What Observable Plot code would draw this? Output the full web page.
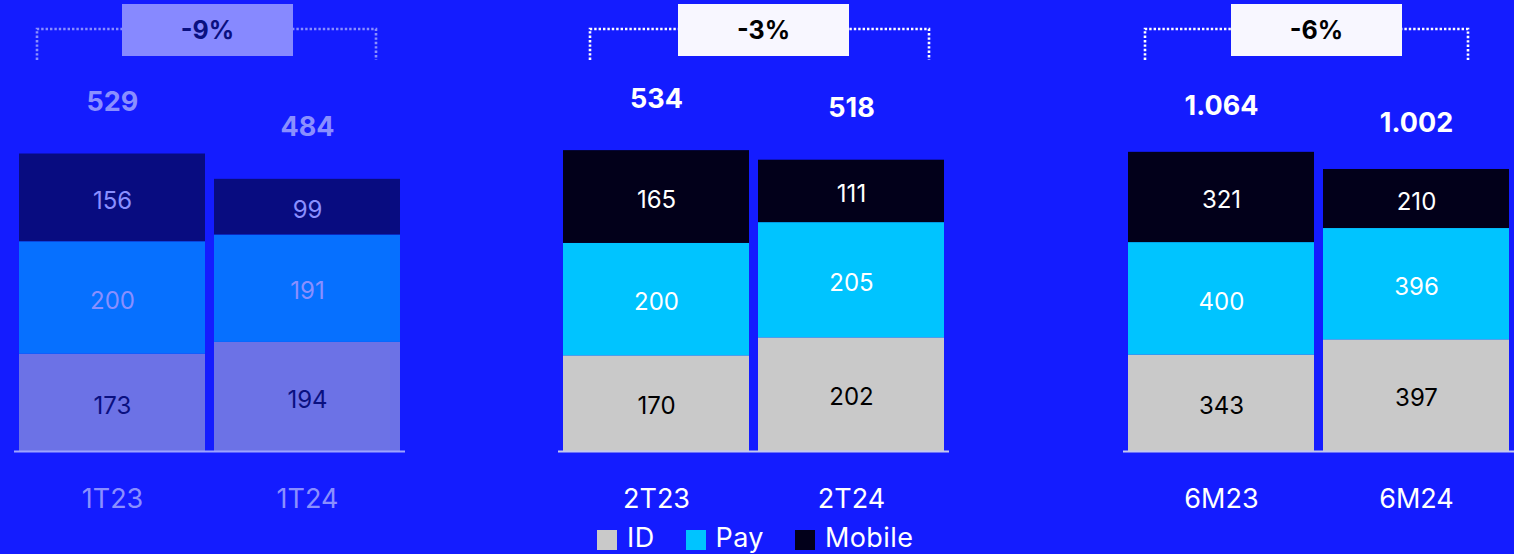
<!DOCTYPE html>
<html><head><meta charset="utf-8">
<script src="https://cdn.jsdelivr.net/npm/d3@7"></script>
<script src="https://cdn.jsdelivr.net/npm/@observablehq/plot@0.6"></script>
<style>
html,body{margin:0;padding:0;background:#141cff;width:1514px;height:554px;overflow:hidden;font-family:Inter,"Noto Sans",sans-serif}
#root{position:relative;width:1514px;height:554px}
.grp{position:absolute;top:0}
.grp svg{overflow:visible}
#over{position:absolute;left:0;top:0;pointer-events:none}
.pct{position:absolute;top:4px;width:171px;height:52px;display:flex;align-items:center;justify-content:center;font-weight:700;font-size:25px}
#legend{position:absolute;top:522px;left:597px;display:flex;align-items:center;color:#fff;font-size:27px;line-height:32px;letter-spacing:0.4px}
#legend .it{display:flex;align-items:center;margin-right:31px}
#legend .sw{width:20px;height:20px;margin-right:10px;margin-top:4px}
</style></head><body><div id="root"></div>
<script>
// ---- data ----
const groups = [["1T23","1T24"],["2T23","2T24"],["6M23","6M24"]];
const series = ["ID","Pay","Mobile"];
const idValues     = [173, 194, 170, 202, 343, 397];
const payValues    = [200, 191, 200, 205, 400, 396];
const mobileValues = [156,  99, 165, 111, 321, 210];
const totals       = [529, 484, 534, 518, 1064, 1002];
const changeLabels = ["-9%","-3%","-6%"];

// ---- styles ----
const fmtNum = d3.formatLocale({decimal: ",", thousands: ".", grouping: [3], currency: ["", "€"]}).format(",");
const faded = {
  bar: {ID: "#6c72e6", Pay: "#0670ff", Mobile: "#080c80"},
  label: {ID: "#0a1080", Pay: "#8a8fff", Mobile: "#8a8fff"},
  total: "#8a8fff", axis: "#8a8fff", base: "#9ea4ff", box: "#8789ff", boxText: "#0a1080", bracket: "#8a8fff"
};
const normal = {
  bar: {ID: "#c9c9c9", Pay: "#00c4ff", Mobile: "#02001a"},
  label: {ID: "#000000", Pay: "#ffffff", Mobile: "#ffffff"},
  total: "#ffffff", axis: "#ffffff", base: "#c4c8f0", box: "#f8f7ff", boxText: "#000000", bracket: "#ffffff"
};
const layout = [
  {left: 14,   yMax: 802,  theme: faded,  bracket: [37, 376],   boxLeft: 122,  totalDy: -52},
  {left: 558,  yMax: 802,  theme: normal, bracket: [590, 929],  boxLeft: 678,  totalDy: -52},
  {left: 1123, yMax: 1604, theme: normal, bracket: [1145, 1468], boxLeft: 1231, totalDy: -46}
];
const seriesValues = {ID: idValues, Pay: payValues, Mobile: mobileValues};
const flatPeriods = groups.flat();

const root = document.getElementById("root");

// brackets overlay
const over = d3.select(root).append("svg").attr("id","over").attr("width",1514).attr("height",554);
layout.forEach((L, gi) => {
  const [bx1, bx2] = L.bracket;
  over.append("path")
    .attr("d", `M${bx1},60V29H${bx2}V60`)
    .attr("fill","none").attr("stroke", L.theme.bracket)
    .attr("stroke-width", 2.6).attr("stroke-dasharray","2.4 2");
});

groups.forEach((periods, gi) => {
  const L = layout[gi];
  const T = L.theme;
  const rows = [];
  const totRows = [];
  periods.forEach(p => {
    const i = flatPeriods.indexOf(p);
    series.forEach(s => rows.push({period: p, series: s, value: seriesValues[s][i]}));
    totRows.push({period: p, total: totals[i]});
  });
  const chart = Plot.plot({
    width: 391, height: 554,
    marginTop: 0, marginBottom: 103, marginLeft: 5, marginRight: 5,
    style: {background: "transparent", fontFamily: "Inter, 'Noto Sans', sans-serif", overflow: "visible"},
    x: {domain: periods, paddingInner: 9/195, paddingOuter: 0, axis: null},
    y: {domain: [0, L.yMax], axis: null},
    color: {type: "identity"},
    marks: [
      Plot.barY(rows, {x: "period", y: "value", fill: d => T.bar[d.series]}),
      Plot.ruleY([0], {stroke: T.base, strokeWidth: 2, insetLeft: -5, insetRight: -5}),
      Plot.text(rows, Plot.stackY({x: "period", y: "value", z: "series",
        text: d => fmtNum(d.value), fill: d => T.label[d.series], fontSize: 24, dy: 3})),
      Plot.text(totRows, {x: "period", y: "total", text: d => fmtNum(d.total),
        dy: L.totalDy, fontWeight: 700, fontSize: 27, fill: T.total}),
      Plot.axisX({tickSize: 0, tickPadding: 37, fontSize: 27, color: T.axis, label: null})
    ]
  });
  const div = document.createElement("div");
  div.className = "grp";
  div.style.left = L.left + "px";
  div.appendChild(chart);
  root.appendChild(div);

  const box = document.createElement("div");
  box.className = "pct";
  box.style.left = L.boxLeft + "px";
  box.style.background = T.box;
  box.style.color = T.boxText;
  box.textContent = changeLabels[gi];
  root.appendChild(box);
});

// legend
const legend = d3.select(root).append("div").attr("id","legend");
series.forEach(s => {
  const it = legend.append("div").attr("class","it");
  it.append("div").attr("class","sw").style("background", normal.bar[s]);
  it.append("span").text(s);
});
</script>
</body></html>
